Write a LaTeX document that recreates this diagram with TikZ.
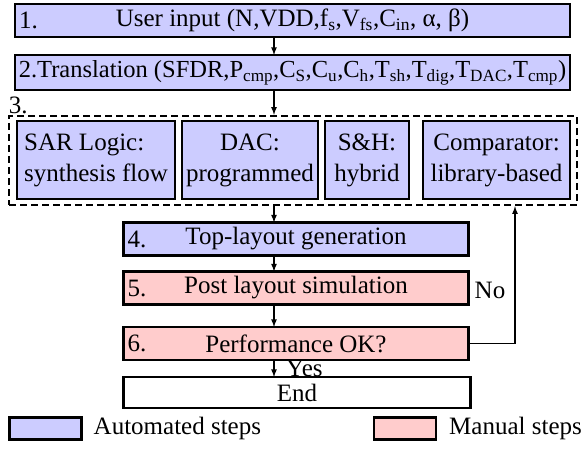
\documentclass[tikz,border=0pt]{standalone}
\usepackage{fontspec}
\setmainfont{Liberation Serif}
\usetikzlibrary{positioning}
\definecolor{autoblue}{RGB}{204,204,255}
\definecolor{manpink}{RGB}{255,204,204}
\tikzset{
	stepbox/.style={
		draw,
		line width=2.4pt,
		minimum height=33pt,
		inner sep=0pt,
		outer sep=0pt
	},
	autostep/.style={
		stepbox,
		fill=autoblue
	},
	manstep/.style={
		stepbox,
		fill=manpink
	},
	blockbox/.style={
		autostep,
		minimum height=78pt,
		align=center
	},
	flow/.style={
		-latex,
		line width=1.6pt
	}
}

\begin{document}
\begin{tikzpicture}[x=1pt, y=-1pt, font=\fontsize{25}{31}\selectfont]
		\useasboundingbox (0,0) rectangle (584,452);
		\coordinate (ax) at (274,0);
		
		\node [autostep, minimum width=555pt, label={[anchor=west, inner sep=4pt]west:1.}] (inp) at (292.5,20.5) {User input (N,VDD,f\textsubscript{s},V\textsubscript{fs},C\textsubscript{in}, α, β)};
		\node [autostep, minimum width=555pt, minimum height=35pt, font=\fontsize{24.5}{30}\selectfont] (trl) at (292.5,72.5) {2.Translation (SFDR,P\textsubscript{cmp},C\textsubscript{S},C\textsubscript{u},C\textsubscript{h},T\textsubscript{sh},T\textsubscript{dig},T\textsubscript{DAC},T\textsubscript{cmp})};
		
		% block generation, one box per sub-block
		\node [draw, dashed, dash pattern=on 7pt off 4pt, line width=2.4pt, minimum width=568pt, minimum height=89pt, inner sep=0pt, label={[anchor=south west, inner sep=1pt]north west:3.}] (grp) at (293,160.5) {};
		\node [blockbox, minimum width=158pt, align=left] (sar) at (96,160) {SAR Logic:\\synthesis flow};
		\node [blockbox, minimum width=136pt] (dac) at (250,160) {DAC:\\programmed};
		\node [blockbox, minimum width=84pt] (sh) at (367,160) {S\&H:\\hybrid};
		\node [blockbox, minimum width=147pt] (cmp) at (496.5,160) {Comparator:\\library-based};
		
		\node [autostep, minimum width=345pt, label={[anchor=west, inner sep=4pt]west:4.}] (top) at (296,239) {Top-layout generation};
		\node [manstep, minimum width=345pt, label={[anchor=west, inner sep=4pt]west:5.}] (pls) at (296,288) {Post layout simulation};
		\node [manstep, minimum width=345pt, label={[anchor=west, inner sep=4pt]west:6.}] (prf) at (296,343.5) {Performance OK?};
		\node [stepbox, fill=white, minimum width=347pt, minimum height=31pt] (end) at (297,392.5) {End};
		
		\draw [flow] (inp.south -| ax) -- (trl.north -| ax);
		\draw [flow] (trl.south -| ax) -- (grp.north -| ax);
		\draw [flow] (grp.south -| ax) -- (top.north -| ax);
		\draw [flow] (top.south -| ax) -- (pls.north -| ax);
		\draw [flow] (pls.south -| ax) -- (prf.north -| ax);
		\draw [flow] (prf.south -| ax) -- (end.north -| ax);
		\node [anchor=base west, inner sep=0pt] (yes) at ([xshift=12pt, yshift=1pt]end.north -| ax) {Yes};
		\draw [flow] (prf.east) -| (515,0 |- grp.south);
		\node [anchor=west, inner sep=0pt] (no) at ([xshift=6pt, yshift=-2pt]pls.east) {No};
		
		% legend
		\node [autostep, minimum width=72pt, minimum height=22pt] (lga) at (45.5,428.5) {};
		\node [right=12pt of lga, inner sep=0pt] (lgat) {Automated steps};
		\node [manstep, minimum width=62pt, minimum height=22pt] (lgm) at (405,428.5) {};
		\node [right=13pt of lgm, inner sep=0pt] (lgmt) {Manual steps};
\end{tikzpicture}
\end{document}
